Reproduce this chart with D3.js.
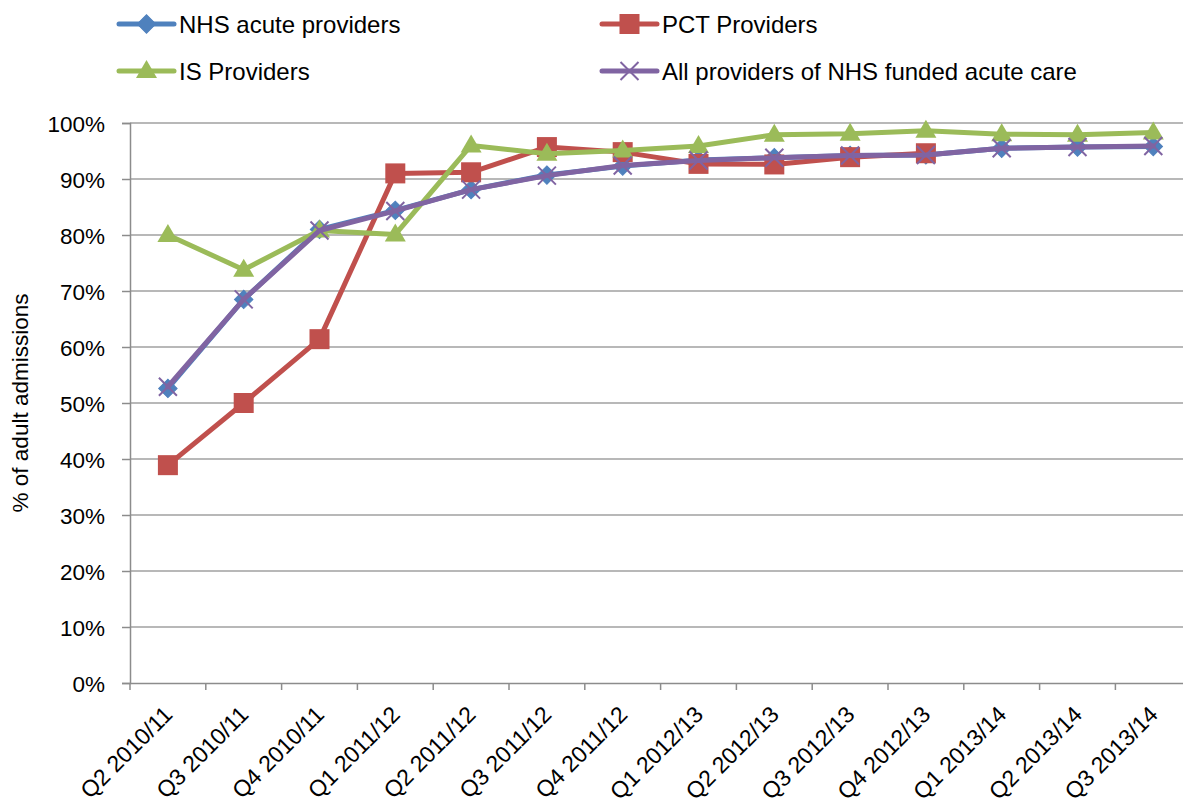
<!DOCTYPE html>
<html>
<head>
<meta charset="utf-8">
<script src="https://cdn.jsdelivr.net/npm/d3@7"></script>
<style>
  html, body { margin: 0; padding: 0; background: #fff; }
  svg { display: block; }
  text { font-family: "Liberation Sans", Arial, sans-serif; fill: #000; }
</style>
</head>
<body>
<svg id="chart" width="1183" height="807"></svg>
<script>
const categories = ["Q2 2010/11","Q3 2010/11","Q4 2010/11","Q1 2011/12","Q2 2011/12","Q3 2011/12","Q4 2011/12","Q1 2012/13","Q2 2012/13","Q3 2012/13","Q4 2012/13","Q1 2013/14","Q2 2013/14","Q3 2013/14"];
const nhsAcute = [52.6, 68.5, 81.0, 84.4, 88.1, 90.7, 92.3, 93.4, 93.8, 94.2, 94.3, 95.5, 95.7, 95.8];
const pctProviders = [38.9, 50.0, 61.4, 91.0, 91.2, 95.7, 94.8, 92.7, 92.6, 93.9, 94.6];
const isProviders = [80.0, 73.8, 80.8, 80.1, 96.0, 94.5, 95.1, 95.9, 97.9, 98.1, 98.6, 98.0, 97.9, 98.3];
const allProviders = [52.9, 68.5, 80.8, 84.3, 88.1, 90.6, 92.4, 93.3, 93.8, 94.2, 94.3, 95.5, 95.7, 95.9];
const yTicks = [0, 10, 20, 30, 40, 50, 60, 70, 80, 90, 100];
const seriesNames = ["NHS acute providers", "PCT Providers", "IS Providers", "All providers of NHS funded acute care"];

const series = [
  {name: seriesNames[0], values: nhsAcute, color: "#4F81BD", marker: "diamond"},
  {name: seriesNames[1], values: pctProviders, color: "#C0504D", marker: "square"},
  {name: seriesNames[2], values: isProviders, color: "#9BBB59", marker: "triangle"},
  {name: seriesNames[3], values: allProviders, color: "#8064A2", marker: "x"}
];

const svg = d3.select("#chart");
const plotL = 130, plotR = 1191.2, plotT = 123, plotB = 683;

const x = d3.scaleBand().domain(categories).range([plotL, plotR]).padding(0);
const y = d3.scaleLinear().domain([0, 100]).range([plotB, plotT]);
const cx = c => x(c) + x.bandwidth() / 2;

// gridlines
svg.append("g").selectAll("line").data(yTicks.filter(t => t > 0)).join("line")
  .attr("x1", plotL).attr("x2", plotR)
  .attr("y1", d => y(d)).attr("y2", d => y(d))
  .attr("stroke", "#a0a0a0").attr("stroke-width", 1.5);

// Y axis
const yAxis = d3.axisLeft(y).tickValues(yTicks).tickFormat(d => d + "%").tickSize(8).tickPadding(17);
const gy = svg.append("g").attr("transform", `translate(${plotL},0)`).call(yAxis);
gy.select(".domain").attr("stroke", "#8c8c8c").attr("stroke-width", 1.5);
gy.selectAll(".tick line").attr("stroke", "#8c8c8c").attr("stroke-width", 1.5);
gy.selectAll(".tick text").attr("font-size", "22.5px").attr("font-family", "Liberation Sans, Arial, sans-serif").attr("fill", "#000").attr("dy", "0.36em");

// X axis
const xAxis = d3.axisBottom(x).tickSize(0).tickFormat("");
const gx = svg.append("g").attr("transform", `translate(0,${plotB})`).call(xAxis);
gx.select(".domain").attr("stroke", "#8c8c8c").attr("stroke-width", 1.5);
gx.selectAll(".tick").remove();
const boundaries = categories.map(c => x(c)).concat([plotR]);
gx.append("g").selectAll("line").data(boundaries).join("line")
  .attr("x1", d => d).attr("x2", d => d).attr("y1", 0).attr("y2", 7)
  .attr("stroke", "#8c8c8c").attr("stroke-width", 1.5);
svg.append("g").selectAll("text").data(categories).join("text")
  .attr("transform", d => `translate(${cx(d) + 6},${plotB + 33}) rotate(-45)`)
  .attr("text-anchor", "end")
  .attr("font-size", "23px")
  .text(d => d);

// Y title
svg.append("text")
  .attr("transform", `translate(28,${(plotT + plotB) / 2}) rotate(-90)`)
  .attr("text-anchor", "middle")
  .attr("font-size", "22.5px")
  .text("% of adult admissions");

function drawMarker(g, type, color, px, py) {
  if (type === "diamond") {
    g.append("path").attr("d", d3.symbol(d3.symbolSquare, 170)())
      .attr("transform", `translate(${px},${py}) rotate(45)`)
      .attr("fill", color).attr("stroke", color).attr("stroke-width", 1);
  } else if (type === "square") {
    g.append("rect").attr("x", px - 10).attr("y", py - 10).attr("width", 20).attr("height", 20)
      .attr("fill", color);
  } else if (type === "triangle") {
    g.append("path").attr("d", `M${px},${py - 11}L${px + 10.5},${py + 7}L${px - 10.5},${py + 7}Z`)
      .attr("fill", color);
  } else if (type === "x") {
    g.append("path").attr("d", `M${px - 9},${py - 9}L${px + 9},${py + 9}M${px - 9},${py + 9}L${px + 9},${py - 9}`)
      .attr("stroke", color).attr("stroke-width", 2).attr("fill", "none");
  }
}

const line = d3.line().x((d, i) => cx(categories[i])).y(d => y(d));

series.forEach(s => {
  const g = svg.append("g");
  g.append("path").datum(s.values).attr("d", line)
    .attr("fill", "none").attr("stroke", s.color).attr("stroke-width", 5)
    .attr("stroke-linejoin", "round").attr("stroke-linecap", "round");
  s.values.forEach((v, i) => drawMarker(g, s.marker, s.color, cx(categories[i]), y(v)));
});

// Legend
const legendPos = [
  {x: 119, y: 24}, {x: 602, y: 24}, {x: 119, y: 71}, {x: 602, y: 71}
];
series.forEach((s, i) => {
  const p = legendPos[i];
  const g = svg.append("g");
  g.append("line").attr("x1", p.x).attr("x2", p.x + 55).attr("y1", p.y).attr("y2", p.y)
    .attr("stroke", s.color).attr("stroke-width", 5).attr("stroke-linecap", "round");
  drawMarker(g, s.marker, s.color, p.x + 27.5, p.y);
  g.append("text").attr("x", p.x + 60).attr("y", p.y).attr("dy", "0.36em")
    .attr("font-size", "24px").text(s.name);
});
</script>
</body>
</html>
